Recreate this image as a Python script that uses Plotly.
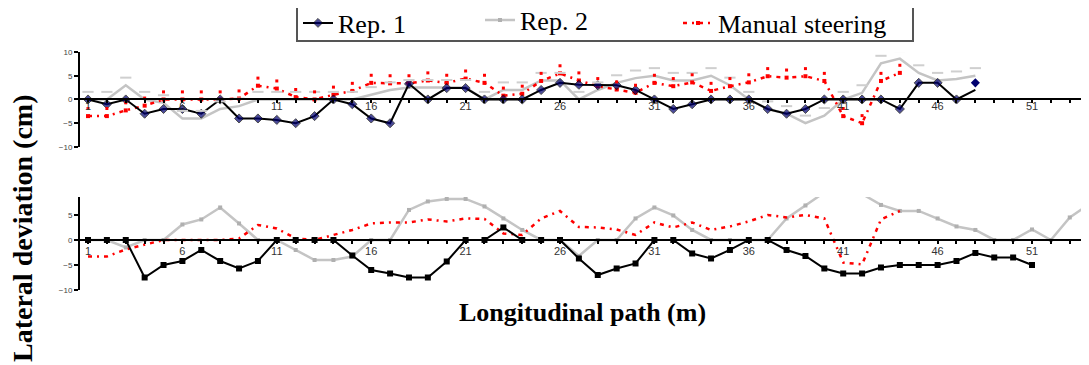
import plotly.graph_objects as go

# ---------------- data ----------------
CATS = list(range(1, 55))

# Upper panel
REP1_TOP = [0, -1, 0, -3, -2, -2, -3, 0, -4, -4, -4.3, -5, -3.5, 0, -1, -4, -5, 3.3, 0, 2.4,
            2.4, 0, 0, 0, 2, 3.5, 3.1, 3, 3, 2, 0, -2, -1, 0, 0, 0, -2, -3, -2, 0,
            0, 0, 0, -2, 3.5, 3.5, 0, 2]
REP1_TOP_LAST_MARK = 3.5
REP2_TOP = [0, 0, 3, 0, -0.7, -4, -4, -2, -1.4, 0, 0, 0, 0, 0, 0, 1, 2, 2.5, 2.5, 2.5,
            2.5, 0, 2, 2, 4, 4, 0, 2, 3.5, 4.5, 5, 4, 4, 5, 3, 0, -2, -3, -5, -3.4,
            0, 1.4, 7.6, 8.6, 5.6, 4, 4.3, 5]
MANUAL_TOP = [-3.5, -3.5, -2.3, -1.3, 0, 0, 0, 0, 0.2, 2.9, 2.3, 0.5, 0, 1, 1.8, 3.5, 3.4, 3.4, 4, 3.5,
              4.4, 3.5, 0.8, 1.2, 3.9, 5.5, 4, 2.8, 2.1, 1.4, 3.5, 2.8, 3.6, 1.8, 2.8, 3.6, 4.9, 4.6, 4.9, 3.9,
              -3.5, -5, 3.9, 5.6]

# Lower panel
REP1_BOT = [0, 0, 0, -7.5, -5, -4.2, -2, -4.2, -5.7, -4.2, 0, 0, 0, 0, -3.1, -6, -6.7, -7.5, -7.5, -4.3,
            0, 0, 2.5, 0, 0, 0, -3.7, -7, -5.7, -4.7, 0, 0, -2.7, -3.7, -2, 0, 0, -2, -3.2, -5.7,
            -6.7, -6.7, -5.5, -5, -5, -5, -4.2, -2.6, -3.5, -3.5, -5]
REP2_BOT = [0, 0, -1.5, 0, 0, 3.1, 4.1, 6.5, 3.3, 0, 0, -2, -4, -4, -3.3, 0, 0, 6, 7.7, 8.2,
            8.2, 6.7, 4.3, 2, 0, 0, -3.2, 0, 0, 4.3, 6.5, 4.9, 2, 0, 0, 0, 0, 4.3, 6.9, 9.5,
            10.5, 9.2, 7, 5.8, 5.8, 4.3, 2.7, 2, 0, 0, 2.1, 0, 4.5, 7.1]
MANUAL_BOT = [-3.3, -3.3, -1.9, -1, 0, 0, 0, 0, 0.3, 3, 2.3, 0.3, 0, 1, 2, 3.3, 3.5, 3.5, 4.1, 3.7,
              4.3, 4.2, 1.3, 1, 4.3, 5.8, 2.6, 2.5, 2.1, 1, 3.5, 2.5, 3.5, 2, 2.7, 3.7, 5, 4.5, 5, 4.3,
              -4.5, -4.9, 4.1, 5.8]

SERIES_NAMES = ["Rep. 1", "Rep. 2", "Manual steering"]
X_TICK_START = 1
X_TICK_STEP = 5
TOP_Y_TICKS = [10, 5, 0, -5, -10]
BOT_Y_TICKS = [5, 0, -5, -10]

# ---------------- styling / layout ----------------
# the page body has an 8px default margin, so margins are reduced by 8 to land on the target pixels
W, H = 1089, 365
PAGE_OFF = 8
ML, MR, MT = 79 - PAGE_OFF, 0, 52 - PAGE_OFF
PLOT_H = 238
MB = H - MT - PLOT_H
PLOT_W = W - ML - MR
PX_PER_CAT = 18.88
GRAY = "#c4c4c4"
RED = "#ff0000"
NAVY = "#000070"
REG_SHIFT = 1.6      # registration offset of the printed marker layer in the upper panel

TOP_YR = [-10, 10]
BOT_YR = [-10, 8.6]
TOP_DOM = [0.601, 1.0]
BOT_DOM = [0.0, 0.391]


def zero_pos(dom, rng):
    return dom[0] + (dom[1] - dom[0]) * (0 - rng[0]) / (rng[1] - rng[0])


def px_x(px):
    return (px - 79) / PLOT_W


def px_y(py):
    return 1 - (py - 52) / PLOT_H


fig = go.Figure()
n = len

# upper panel
fig.add_trace(go.Scatter(x=CATS[:n(REP2_TOP)], y=REP2_TOP, mode="lines",
                         line=dict(color=GRAY, width=2.5), xaxis="x", yaxis="y",
                         showlegend=False, hoverinfo="skip"))
fig.add_trace(go.Scatter(x=CATS[:n(REP2_TOP)], y=REP2_TOP, mode="markers",
                         marker=dict(symbol="line-ew", size=8, line=dict(color="#cfcfcf", width=2)),
                         xaxis="x", yaxis="y3", showlegend=False, hoverinfo="skip"))
fig.add_trace(go.Scatter(x=CATS[:n(MANUAL_TOP)], y=MANUAL_TOP, mode="markers",
                         marker=dict(symbol="square", size=3, color=RED),
                         xaxis="x", yaxis="y3", showlegend=False, hoverinfo="skip"))
fig.add_trace(go.Scatter(x=CATS[:n(MANUAL_TOP)], y=MANUAL_TOP, mode="lines+markers",
                         name=SERIES_NAMES[2], legend="legend3",
                         line=dict(color=RED, width=2.5, dash="4px,5px,2px,5px"),
                         marker=dict(symbol="square", size=4, color=RED),
                         xaxis="x", yaxis="y"))
sizes = [7] * (n(REP1_TOP) - 1) + [0]
fig.add_trace(go.Scatter(x=CATS[:n(REP1_TOP)], y=REP1_TOP, mode="lines+markers",
                         name=SERIES_NAMES[0], legend="legend",
                         line=dict(color="black", width=2),
                         marker=dict(symbol="diamond", size=sizes, color=NAVY),
                         xaxis="x", yaxis="y"))
fig.add_trace(go.Scatter(x=[CATS[n(REP1_TOP) - 1]], y=[REP1_TOP_LAST_MARK], mode="markers",
                         marker=dict(symbol="diamond", size=7, color=NAVY),
                         xaxis="x", yaxis="y", showlegend=False))

# lower panel
fig.add_trace(go.Scatter(x=CATS[:n(REP2_BOT)], y=REP2_BOT, mode="lines+markers",
                         name=SERIES_NAMES[1], legend="legend2",
                         line=dict(color=GRAY, width=2.5),
                         marker=dict(symbol="square", size=4, color="#b0b0b0"),
                         xaxis="x2", yaxis="y2"))
fig.add_trace(go.Scatter(x=CATS[:n(MANUAL_BOT)], y=MANUAL_BOT, mode="lines",
                         line=dict(color=RED, width=2.5, dash="4px,5px,2px,5px"),
                         xaxis="x2", yaxis="y2", showlegend=False))
fig.add_trace(go.Scatter(x=CATS[:n(REP1_BOT)], y=REP1_BOT, mode="lines+markers",
                         line=dict(color="black", width=2),
                         marker=dict(symbol="square", size=6, color="black"),
                         xaxis="x2", yaxis="y2", showlegend=False))

x_lo = 0.523
x_range = [x_lo, x_lo + PLOT_W / PX_PER_CAT]
xax_common = dict(range=x_range, showgrid=False, zeroline=False, showline=True,
                  linecolor="black", linewidth=2, ticks="outside", ticklen=3, tickwidth=2,
                  tickcolor="black", tick0=X_TICK_START, dtick=X_TICK_STEP,
                  tickfont=dict(family="Liberation Sans", size=11, color="#333333"),
                  minor=dict(dtick=1, tick0=X_TICK_START, ticks="outside", ticklen=3,
                             tickwidth=2, tickcolor="black"),
                  anchor="free", domain=[0, 1], automargin=False)
yax_common = dict(showgrid=False, zeroline=False, showline=True, linecolor="black",
                  linewidth=2, ticks="outside", ticklen=4, tickwidth=2, tickcolor="black",
                  tickfont=dict(family="Liberation Sans", size=8, color="#444444"),
                  anchor="free", position=0, automargin=False)


def leg(px_left, py_mid):
    return dict(orientation="h", x=px_x(px_left), xanchor="left", y=px_y(py_mid),
                yanchor="middle", font=dict(family="Liberation Serif", size=26, color="black"),
                bgcolor="rgba(0,0,0,0)", borderwidth=0, itemwidth=30)


fig.update_layout(
    width=W, height=H, margin=dict(l=ML, r=MR, t=MT, b=MB, autoexpand=False),
    paper_bgcolor="white", plot_bgcolor="white",
    xaxis=dict(**xax_common, position=zero_pos(TOP_DOM, TOP_YR), ticklabelstandoff=-7),
    xaxis2=dict(**xax_common, position=zero_pos(BOT_DOM, BOT_YR), ticklabelstandoff=-2),
    yaxis=dict(**yax_common, range=TOP_YR, domain=TOP_DOM, tickmode="array", tickvals=TOP_Y_TICKS),
    yaxis2=dict(**yax_common, range=BOT_YR, domain=BOT_DOM, tickmode="array", tickvals=BOT_Y_TICKS),
    yaxis3=dict(range=[TOP_YR[0] - REG_SHIFT, TOP_YR[1] - REG_SHIFT], overlaying="y",
                visible=False, anchor="x"),
    showlegend=True,
    legend=leg(298, 23),
    legend2=leg(480, 20),
    legend3=leg(678, 23),
    shapes=[dict(type="rect", xref="paper", yref="paper",
                 x0=px_x(297), x1=px_x(913), y0=px_y(41), y1=px_y(4),
                 line=dict(color="#555555", width=2), fillcolor="rgba(0,0,0,0)", layer="above")],
    annotations=[
        dict(text="<b>Lateral deviation (cm)</b>", xref="paper", yref="paper",
             x=px_x(22), y=px_y(228), xanchor="center", yanchor="middle",
             textangle=-90, showarrow=False,
             font=dict(family="Liberation Serif", size=28, color="black")),
        dict(text="<b>Longitudinal path (m)</b>", xref="paper", yref="paper",
             x=px_x(582), y=px_y(312), xanchor="center", yanchor="middle", showarrow=False,
             font=dict(family="Liberation Serif", size=26, color="black")),
    ],
)

fig.write_html("out.html")
